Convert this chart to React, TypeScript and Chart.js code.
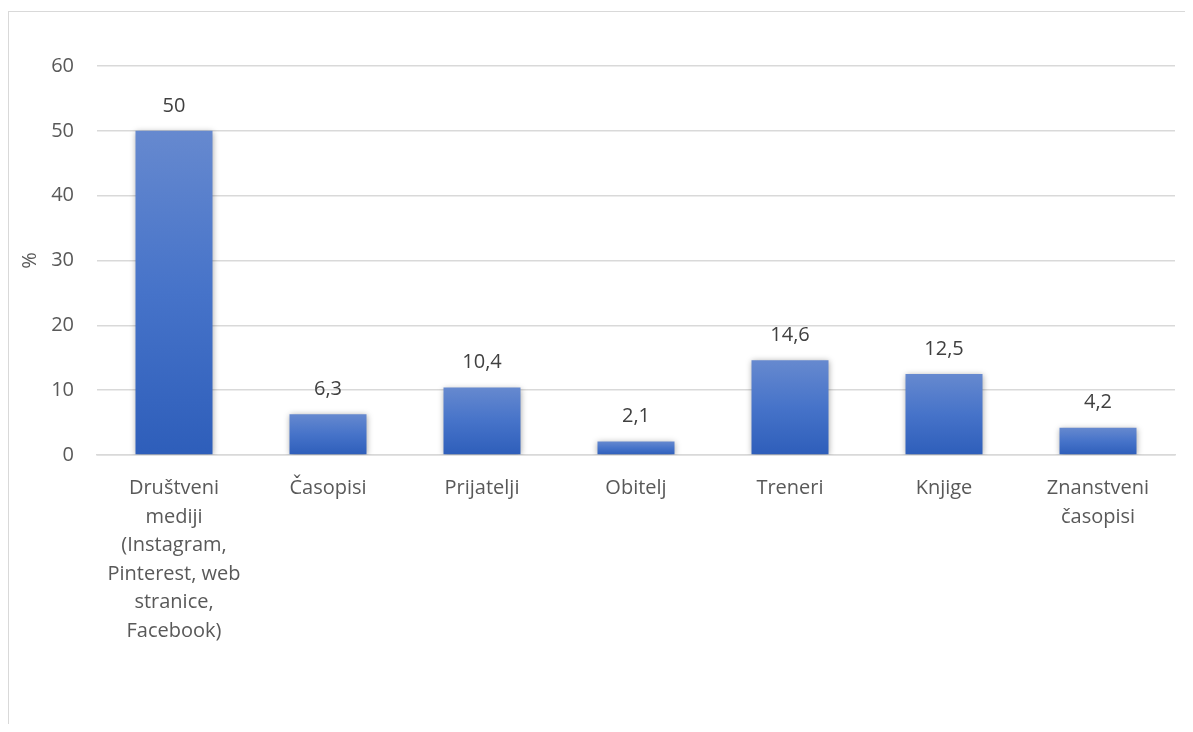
import React, { useEffect, useRef } from "react";
import { Chart, registerables } from "chart.js";

Chart.register(...registerables);

const categories: string[][] = [
  ["Društveni", "mediji", "(Instagram,", "Pinterest, web", "stranice,", "Facebook)"],
  ["Časopisi"],
  ["Prijatelji"],
  ["Obitelj"],
  ["Treneri"],
  ["Knjige"],
  ["Znanstveni", "časopisi"],
];
const values: number[] = [50, 6.3, 10.4, 2.1, 14.6, 12.5, 4.2];
const yTicks: number[] = [0, 10, 20, 30, 40, 50, 60];

const FONT = "'Open Sans', sans-serif";
const FS = 20;

const shadowPlugin = {
  id: "barShadow",
  beforeDatasetDraw(chart: any) {
    const ctx = chart.ctx;
    ctx.save();
    ctx.shadowColor = "rgba(0,0,0,0.35)";
    ctx.shadowBlur = 6;
    ctx.shadowOffsetX = 0;
    ctx.shadowOffsetY = 1;
  },
  afterDatasetDraw(chart: any) {
    chart.ctx.restore();
  },
};

const labelPlugin = {
  id: "valueLabels",
  afterDatasetsDraw(chart: any) {
    const ctx = chart.ctx;
    const meta = chart.getDatasetMeta(0);
    ctx.save();
    ctx.font = `${FS}px ${FONT}`;
    ctx.fillStyle = "#404040";
    ctx.textAlign = "center";
    ctx.textBaseline = "middle";
    meta.data.forEach((bar: any, i: number) => {
      const txt = String(values[i]).replace(".", ",");
      ctx.fillText(txt, bar.x, bar.y - 25);
    });
    ctx.restore();
  },
};

export default function App() {
  const ref = useRef<HTMLCanvasElement | null>(null);
  useEffect(() => {
    if (!ref.current) return;
    const ctx = ref.current.getContext("2d")!;
    const chart = new Chart(ctx, {
      type: "bar",
      data: {
        labels: categories,
        datasets: [
          {
            data: values,
            backgroundColor: (c: any) => {
              const ch = c.chart;
              const area = ch.chartArea;
              const ys = ch.scales && ch.scales.y;
              if (!area || !ys || c.type !== "data") return "#4472C4";
              const top = ys.getPixelForValue(values[c.dataIndex]);
              const bottom = ys.getPixelForValue(0);
              const g = ch.ctx.createLinearGradient(0, top, 0, bottom);
              g.addColorStop(0, "#6689CF");
              g.addColorStop(0.5, "#4673C9");
              g.addColorStop(1, "#2E5EBA");
              return g;
            },
            barPercentage: 0.5,
            categoryPercentage: 1,
            borderWidth: 0,
          },
        ],
      },
      options: {
        animation: false,
        responsive: true,
        maintainAspectRatio: false,
        layout: { padding: { top: 54, right: 10, left: 0, bottom: 0 } },
        plugins: {
          legend: { display: false },
          tooltip: { enabled: false },
        },
        scales: {
          x: {
            grid: { display: false },
            border: { display: true, color: "#D9D9D9", width: 1.5 },
            ticks: {
              color: "#595959",
              font: { family: FONT, size: FS, lineHeight: 1.43 },
              padding: 11,
              maxRotation: 0,
              autoSkip: false,
            },
            afterFit: (s: any) => {
              s.height = 269;
            },
          },
          y: {
            min: 0,
            max: 60,
            afterBuildTicks: (s: any) => {
              s.ticks = yTicks.map((v) => ({ value: v }));
            },
            grid: { color: "#D9D9D9", lineWidth: 1.5, drawTicks: false },
            border: { display: false },
            ticks: {
              color: "#595959",
              font: { family: FONT, size: FS },
              padding: 23,
            },
            title: {
              display: true,
              text: "%",
              color: "#595959",
              font: { family: FONT, size: FS },
              padding: { top: 9, bottom: 0 },
            },
            afterFit: (s: any) => {
              s.width = 88;
            },
          },
        },
      },
      plugins: [shadowPlugin, labelPlugin],
    });
    return () => chart.destroy();
  }, []);

  return (
    <div style={{ paddingTop: 3 }}>
      <div
        style={{
          height: 712,
          borderTop: "1px solid #D9D9D9",
          borderLeft: "1px solid #D9D9D9",
          position: "relative",
        }}
      >
        <canvas ref={ref} />
      </div>
    </div>
  );
}
